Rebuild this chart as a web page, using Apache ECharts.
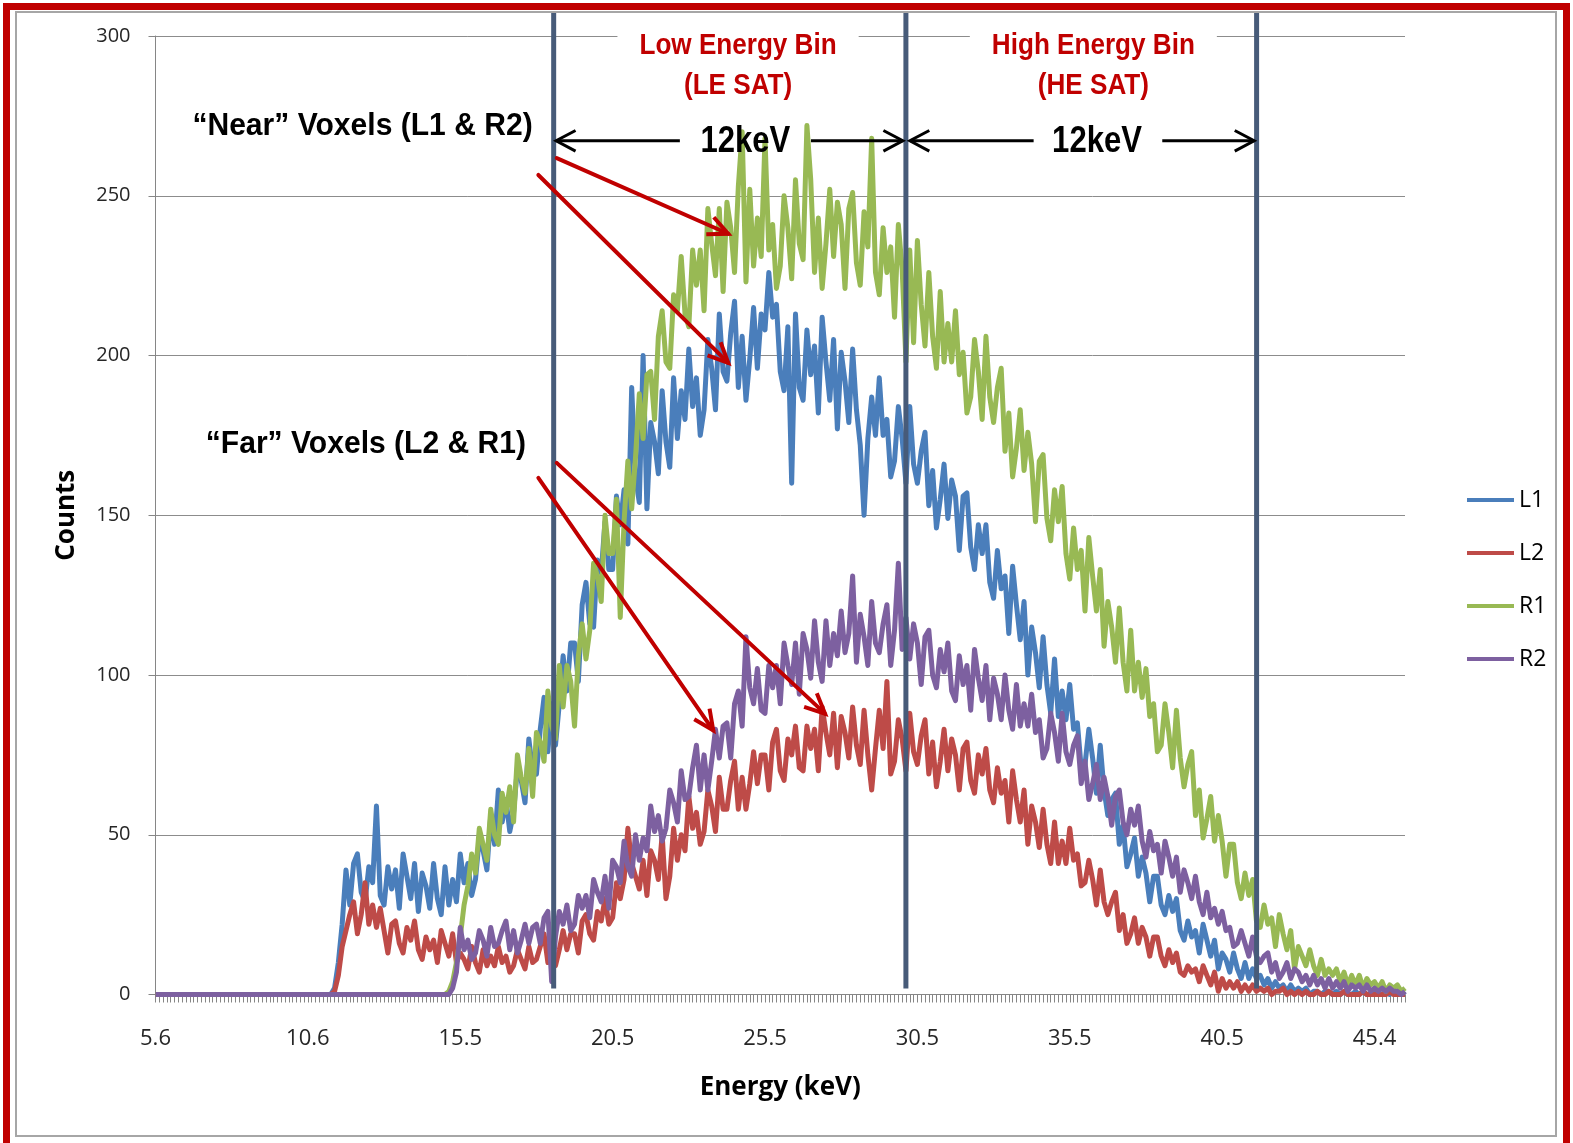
<!DOCTYPE html>
<html>
<head>
<meta charset="utf-8">
<title>Energy spectra L1 L2 R1 R2</title>
<script src="https://cdn.jsdelivr.net/npm/echarts@6/dist/echarts.min.js"></script>
<style>
html, body { margin: 0; padding: 0; background: #ffffff; }
#chart { width: 1573px; height: 1143px; }
</style>
</head>
<body>
<div id="chart"></div>
<script>
// Detector channels: 40 channels between labelled energies on the x axis
const E0_KEV = 5.6;
const KEV_PER_LABEL = 4.975;
const CHANNELS_PER_LABEL = 40;
const tickLabels = ['5.6', '10.6', '15.5', '20.5', '25.5', '30.5', '35.5', '40.5', '45.4'];

const seriesNames = ['L1', 'L2', 'R1', 'R2'];
const seriesColors = ['#4a7ebb', '#be4b48', '#98b954', '#7d60a0'];

// Counts per channel
const L1 = [
  0,0,0,0,0,0,0,0,0,0, 0,0,0,0,0,0,0,0,0,0, 0,0,0,0,0,0,0,0,0,0, 0,0,0,0,0,0,0,0,0,0, 0,0,0,0,0,0,
  0,2,10,22,
  39,28,41,44,32,29,40,35,59,31,
  28,40,33,39,27,44,37,30,41,26,
  38,34,27,41,30,25,40,28,36,29,
  44,35,41,31,36,49,45,39,56,47,
  64,54,61,51,57,71,67,60,80,70,
  69,83,93,76,91,78,91,106,95,110,
  110,98,122,129,116,115,136,132,148,133,
  133,156,147,158,141,190,162,154,200,152,
  179,173,163,189,173,165,193,174,189,180,
  202,184,193,175,183,205,196,183,213,195,
  192,207,217,190,206,186,199,215,196,213,
  208,226,212,216,195,189,209,160,213,190,
  186,208,194,203,182,212,198,186,205,177,
  201,192,179,202,183,172,150,174,187,175,
  193,175,180,162,167,184,174,160,184,166,
  160,170,176,153,164,146,155,166,149,161,
  156,139,156,157,140,133,147,138,147,129,
  124,139,127,131,113,134,122,111,123,100,
  115,107,96,112,97,88,105,87,95,86,
  97,83,85,71,72,83,74,63,78,64,
  56,61,63,47,53,40,44,49,37,43,
  38,29,37,37,28,25,31,26,30,20,
  17,23,18,20,13,22,17,12,17,8,
  13,11,7,13,8,5,10,5,8,5,
  6,3,5,2,4,2,3,1,3,1,
  2,1,2,0,1,1,0,1,1,0,
  1,0,1,0,0,1,0,1,0,0,
  1,0,0,1,0,1,0,0,1
];

const L2 = [
  0,0,0,0,0,0,0,0,0,0, 0,0,0,0,0,0,0,0,0,0, 0,0,0,0,0,0,0,0,0,0, 0,0,0,0,0,0,0,0,0,0, 0,0,0,0,0,0,
  0,1,6,15,
  20,25,29,19,25,35,22,28,21,27,
  20,13,22,23,16,13,21,17,23,14,
  11,18,14,17,10,20,16,12,19,10,
  13,11,8,15,10,7,14,9,12,9,
  15,10,12,7,9,14,11,8,15,10,
  11,15,19,10,16,9,14,20,14,19,
  19,13,23,25,19,17,26,23,30,22,
  24,35,30,36,52,41,37,33,42,31,
  45,42,36,50,30,37,52,42,50,45,
  62,52,57,47,51,64,59,51,68,58,
  58,67,73,58,68,58,66,76,66,75,
  75,64,79,83,70,67,80,75,84,71,
  70,84,77,83,70,90,82,75,88,71,
  87,82,74,90,78,72,89,75,64,77,
  89,77,98,69,73,86,80,70,88,76,
  72,81,86,69,79,65,73,83,70,80,
  75,64,77,79,67,63,75,69,77,64,
  60,71,63,67,54,70,61,54,64,47,
  59,54,46,58,47,41,54,41,48,41,
  52,42,44,34,35,42,36,28,39,29,
  25,29,32,20,25,16,19,24,16,21,
  18,12,18,18,12,9,14,10,13,7,
  6,9,7,8,4,9,6,3,7,1,
  5,2,4,2,4,1,3,1,3,1,
  2,1,2,0,1,1,2,0,1,0,
  1,0,1,0,0,1,0,0,1,0,
  0,0,1,0,0,0,0,1,0,0,
  0,0,0,0,1,0,0,0,0
];

const R1 = [
  0,0,0,0,0,0,0,0,0,0, 0,0,0,0,0,0,0,0,0,0, 0,0,0,0,0,0,0,0,0,0, 0,0,0,0,0,0,0,0,0,0,
  0,0,0,0,0,0,0,0,0,0, 0,0,0,0,0,0,0,0,0,0, 0,0,0,0,0,0,0,0,0,0, 0,0,0,0,0,0,0,
  1,4,10,
  18,28,34,44,38,52,47,42,58,50,
  47,63,57,65,54,75,68,63,77,62,
  82,79,73,95,84,80,103,90,103,98,
  84,106,116,105,114,135,131,123,150,138,
  138,155,118,148,167,152,168,188,174,194,
  195,180,206,214,198,196,219,214,231,213,
  209,233,222,233,214,246,235,225,246,220,
  248,240,226,253,270,223,252,228,243,231,
  268,233,241,221,228,250,240,224,255,235,
  230,272,255,226,243,221,235,252,231,248,
  241,221,246,251,229,222,245,234,268,226,
  219,240,226,234,212,241,227,198,233,204,
  236,216,203,226,206,196,220,198,210,198,
  214,194,201,182,187,205,195,180,206,187,
  179,190,196,170,182,162,171,183,164,176,
  166,148,167,169,149,142,158,148,159,138,
  130,146,133,139,120,143,131,120,133,109,
  123,115,104,121,104,95,114,95,104,93,
  102,87,91,76,78,91,82,71,89,74,
  65,72,76,56,64,49,55,62,48,56,
  48,37,47,47,35,30,38,31,36,23,
  21,28,22,24,15,25,19,14,20,8,
  15,12,9,14,9,6,11,6,8,6,
  8,4,7,3,6,3,6,2,5,3,
  4,2,4,1,3,2,3,1,2
];

const R2 = [
  0,0,0,0,0,0,0,0,0,0, 0,0,0,0,0,0,0,0,0,0, 0,0,0,0,0,0,0,0,0,0, 0,0,0,0,0,0,0,0,0,0,
  0,0,0,0,0,0,0,0,0,0, 0,0,0,0,0,0,0,0,0,0, 0,0,0,0,0,0,0,0,0,0, 0,0,0,0,0,0,0,
  0,2,7,
  21,14,17,11,13,20,17,12,21,15,
  16,20,23,14,20,13,17,22,16,21,
  22,16,24,26,4,18,26,22,28,20,
  22,31,27,31,24,36,32,29,37,27,
  42,40,35,48,40,37,50,42,49,45,
  59,51,56,48,52,64,60,54,70,61,
  62,71,78,64,75,64,73,83,74,84,
  85,74,91,95,84,112,96,91,102,89,
  88,103,96,103,91,110,103,97,110,94,
  113,108,99,117,104,98,117,103,113,106,
  120,107,113,131,104,119,112,103,123,110,
  107,116,122,103,114,135,108,118,105,116,
  110,97,112,114,100,96,108,101,110,95,
  92,106,97,103,89,108,99,92,103,86,
  99,94,86,100,89,83,97,84,91,84,
  94,82,86,74,77,88,82,73,88,76,
  72,78,81,66,73,61,66,72,61,68,
  62,53,62,64,54,50,58,53,59,48,
  43,51,45,47,38,48,43,37,43,32,
  39,35,30,37,29,25,32,24,27,22,
  26,20,21,15,16,20,16,12,18,12,
  10,12,13,7,10,5,7,10,5,8,
  7,4,6,3,6,3,5,2,5,2,
  4,2,4,1,3,2,3,1,3,1,
  2,1,2,1,2,1,1,0,1
];

const seriesData = [L1, L2, R1, R2];

// Energy-bin boundaries (keV) and annotation anchors in (keV, counts)
const binEdgesKeV = [18.6, 30.1, 41.55];
const widthArrows = [
  { from: 18.68, gapFrom: 22.72, gapTo: 27.0, to: 30.0, textAt: 24.86 },
  { from: 30.23, gapFrom: 34.27, gapTo: 38.47, to: 41.47, textAt: 36.34 }
];
const widthArrowCounts = 267.2;
const pointerArrows = [
  { from: [18.70, 261.8], to: [24.30, 238.1] },
  { from: [18.10, 256.5], to: [24.30, 197.7] },
  { from: [18.70, 166.4], to: [27.46, 87.9] },
  { from: [18.10, 161.7], to: [23.81, 82.7] }
];

const channelCount = L1.length;
const channels = Array.from({ length: channelCount }, (_, i) => String(i));

const chart = echarts.init(document.getElementById('chart'), null, { renderer: 'canvas' });

const tickFont = '"Open Sans", "DejaVu Sans", sans-serif';

chart.setOption({
  animation: false,
  backgroundColor: '#ffffff',
  grid: { left: 155.5, right: 168, top: 36, bottom: 148.5, containLabel: false },
  legend: {
    orient: 'vertical',
    left: 1462,
    top: 483,
    itemWidth: 47,
    itemHeight: 4,
    itemGap: 29,
    icon: 'rect',
    selectedMode: false,
    data: seriesNames,
    textStyle: { fontFamily: tickFont, fontSize: 23, color: '#000000', lineHeight: 24 }
  },
  xAxis: {
    type: 'category',
    data: channels,
    boundaryGap: false,
    name: 'Energy (keV)',
    nameLocation: 'middle',
    nameGap: 80,
    nameTextStyle: { fontFamily: tickFont, fontSize: 26, fontWeight: 'bold', color: '#000000' },
    axisLine: { lineStyle: { color: '#868686', width: 1 } },
    axisTick: { show: true, interval: 0, length: 8, lineStyle: { color: '#868686', width: 1 } },
    axisLabel: {
      interval: CHANNELS_PER_LABEL - 1,
      margin: 33,
      fontFamily: tickFont,
      fontSize: 22,
      color: '#262626',
      formatter: (val, idx) => (idx % CHANNELS_PER_LABEL === 0 ? (tickLabels[idx / CHANNELS_PER_LABEL] || '') : '')
    },
    splitLine: { show: false }
  },
  yAxis: {
    type: 'value',
    min: 0,
    max: 300,
    interval: 50,
    name: 'Counts',
    nameLocation: 'middle',
    nameRotate: 90,
    nameGap: 76,
    nameTextStyle: { fontFamily: tickFont, fontSize: 26, fontWeight: 'bold', color: '#000000' },
    axisLine: { show: true, lineStyle: { color: '#868686', width: 1 } },
    axisTick: { show: true, length: 7, lineStyle: { color: '#868686', width: 1 } },
    axisLabel: { margin: 25, fontFamily: tickFont, fontSize: 20, color: '#262626' },
    splitLine: { show: true, lineStyle: { color: '#8c8c8c', width: 1 } }
  },
  series: seriesNames.map((name, k) => ({
    name,
    type: 'line',
    data: seriesData[k],
    symbol: 'none',
    showSymbol: false,
    clip: false,
    silent: true,
    lineStyle: { width: 5, color: seriesColors[k], join: 'round' },
    itemStyle: { color: seriesColors[k] },
    emphasis: { disabled: true }
  }))
});

// Annotations: bin boundaries, bin titles, width arrows and pointer arrows
function drawAnnotations() {
  const xStart = chart.convertToPixel({ xAxisIndex: 0 }, 0);
  const xEnd = chart.convertToPixel({ xAxisIndex: 0 }, CHANNELS_PER_LABEL * 8);
  const pxPerKeV = (xEnd - xStart) / (KEV_PER_LABEL * 8);
  const px = e => xStart + (e - E0_KEV) * pxPerKeV;
  const py = v => chart.convertToPixel({ yAxisIndex: 0 }, v);
  const pt = p => [px(p[0]), py(p[1])];

  const chevron = (tip, from, len, halfDeg) => {
    const dx = tip[0] - from[0], dy = tip[1] - from[1];
    const d = Math.hypot(dx, dy);
    const bx = -dx / d, by = -dy / d;
    const a = halfDeg * Math.PI / 180;
    const wing = s => {
      const c = Math.cos(s * a), sn = Math.sin(s * a);
      return [tip[0] + (bx * c - by * sn) * len, tip[1] + (bx * sn + by * c) * len];
    };
    return [wing(1), tip, wing(-1)];
  };

  const els = [];
  const frameTop = 12;

  // outer frame
  els.push({ type: 'rect', z: 120, silent: true,
    shape: { x: 6.5, y: 6.5, width: 1560, height: 1160 },
    style: { fill: null, stroke: '#c00000', lineWidth: 7 } });
  els.push({ type: 'rect', z: 120, silent: true,
    shape: { x: 16, y: 12, width: 1540, height: 1124 },
    style: { fill: null, stroke: '#a6a6a6', lineWidth: 2 } });

  // bin boundary lines
  binEdgesKeV.forEach(e => {
    els.push({ type: 'line', z: 100, silent: true,
      shape: { x1: px(e), y1: frameTop, x2: px(e), y2: py(1.9) },
      style: { stroke: '#475b79', lineWidth: 5 } });
  });

  const text = (str, x, y, font, color, sx, box) => ({
    type: 'text', x, y, scaleX: sx, z: 110, silent: true,
    style: {
      text: str, x: 0, y: 0, font, fill: color,
      align: 'center', verticalAlign: 'middle', textAlign: 'center', textVerticalAlign: 'middle',
      backgroundColor: box ? '#ffffff' : null,
      padding: box ? [2, 22 / sx, 2, 22 / sx] : 0
    }
  });

  const binFont = 'bold 29px "Liberation Sans", Arial, sans-serif';
  const binTitles = [
    { at: 24.62, lines: ['Low Energy Bin', '(LE SAT)'] },
    { at: 36.22, lines: ['High Energy Bin', '(HE SAT)'] }
  ];
  binTitles.forEach(b => {
    els.push(text(b.lines[0], px(b.at), py(297.0), binFont, '#c00000', 0.9, true));
    els.push(text(b.lines[1], px(b.at), py(284.3), binFont, '#c00000', 0.9, false));
  });

  // 12 keV width arrows
  const yArrow = py(widthArrowCounts);
  widthArrows.forEach(w => {
    const a = px(w.from), g1 = px(w.gapFrom), g2 = px(w.gapTo), b = px(w.to);
    els.push({ type: 'line', z: 105, silent: true, shape: { x1: a, y1: yArrow, x2: g1, y2: yArrow },
      style: { stroke: '#000000', lineWidth: 3 } });
    els.push({ type: 'line', z: 105, silent: true, shape: { x1: g2, y1: yArrow, x2: b, y2: yArrow },
      style: { stroke: '#000000', lineWidth: 3 } });
    els.push({ type: 'polyline', z: 105, silent: true,
      shape: { points: chevron([a, yArrow], [g1, yArrow], 22, 28) },
      style: { fill: null, stroke: '#000000', lineWidth: 3 } });
    els.push({ type: 'polyline', z: 105, silent: true,
      shape: { points: chevron([b, yArrow], [g2, yArrow], 22, 28) },
      style: { fill: null, stroke: '#000000', lineWidth: 3 } });
    els.push(text('12keV', px(w.textAt), py(266.9), 'bold 37px "Liberation Sans", Arial, sans-serif', '#000000', 0.84, false));
  });

  // voxel group labels
  const groupFont = 'bold 31px "Liberation Sans", Arial, sans-serif';
  els.push(text('\u201CNear\u201D Voxels (L1 & R2)', px(12.36), py(271.8), groupFont, '#000000', 0.97, false));
  els.push(text('\u201CFar\u201D Voxels (L2 & R1)', px(12.47), py(172.2), groupFont, '#000000', 0.97, false));

  // pointer arrows
  pointerArrows.forEach(p => {
    const s = pt(p.from), t = pt(p.to);
    els.push({ type: 'line', z: 106, silent: true, shape: { x1: s[0], y1: s[1], x2: t[0], y2: t[1] },
      style: { stroke: '#c00000', lineWidth: 4, lineCap: 'round' } });
    els.push({ type: 'polyline', z: 106, silent: true,
      shape: { points: chevron(t, s, 22, 25) },
      style: { fill: null, stroke: '#c00000', lineWidth: 4, lineJoin: 'miter' } });
  });

  chart.setOption({ graphic: { elements: els } });
}

drawAnnotations();
</script>
</body>
</html>
